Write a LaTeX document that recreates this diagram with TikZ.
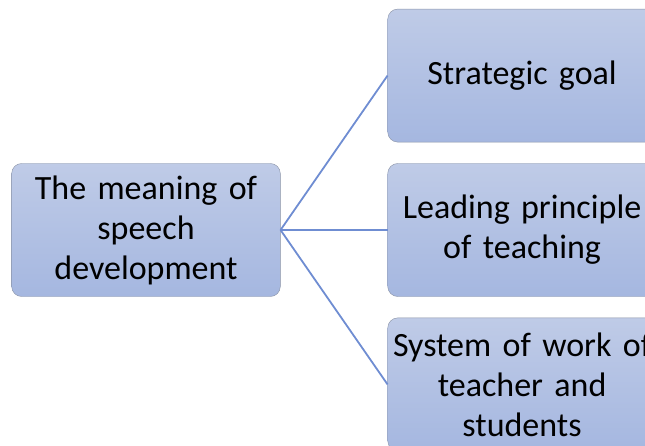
\documentclass[tikz,border=0pt]{standalone}
\usepackage{fontspec}
\setmainfont{Carlito}
\usetikzlibrary{positioning}
\definecolor{boxtop}{HTML}{BFCBE7}
\definecolor{boxbot}{HTML}{A5B7E0}
\definecolor{boxline}{HTML}{8A93A6}
\definecolor{linkblue}{HTML}{6F8DD2}

\begin{document}
\begin{tikzpicture}[node distance = 22pt]
  \tikzstyle{topic} = [rectangle, rounded corners=10pt, minimum width=268pt, minimum height=133pt, text width=262pt, execute at begin node=\centering, draw=boxline, top color=boxtop, bottom color=boxbot, font=\fontsize{34}{40}\selectfont]
  \tikzstyle{link} = [draw=linkblue, line width=1.8pt]
  \clip (0,0) rectangle (645pt,445pt);
  \useasboundingbox (0,0) rectangle (645pt,445pt);
  \node (m) [topic] at (146pt,215pt) {The meaning of\\ speech\\ development};
  \node (p) [topic, right=107pt of m] {Leading principle\\ of teaching};
  \node (g) [topic, above=of p, yshift=-1pt] {Strategic goal};
  \node (s) [topic, below=of p, yshift=1pt] {System of work of\\ teacher and\\ students};
  \draw [link] (m.east) -- (g.west);
  \draw [link] (m.east) -- (p.west);
  \draw [link] (m.east) -- (s.west);
\end{tikzpicture}
\end{document}
